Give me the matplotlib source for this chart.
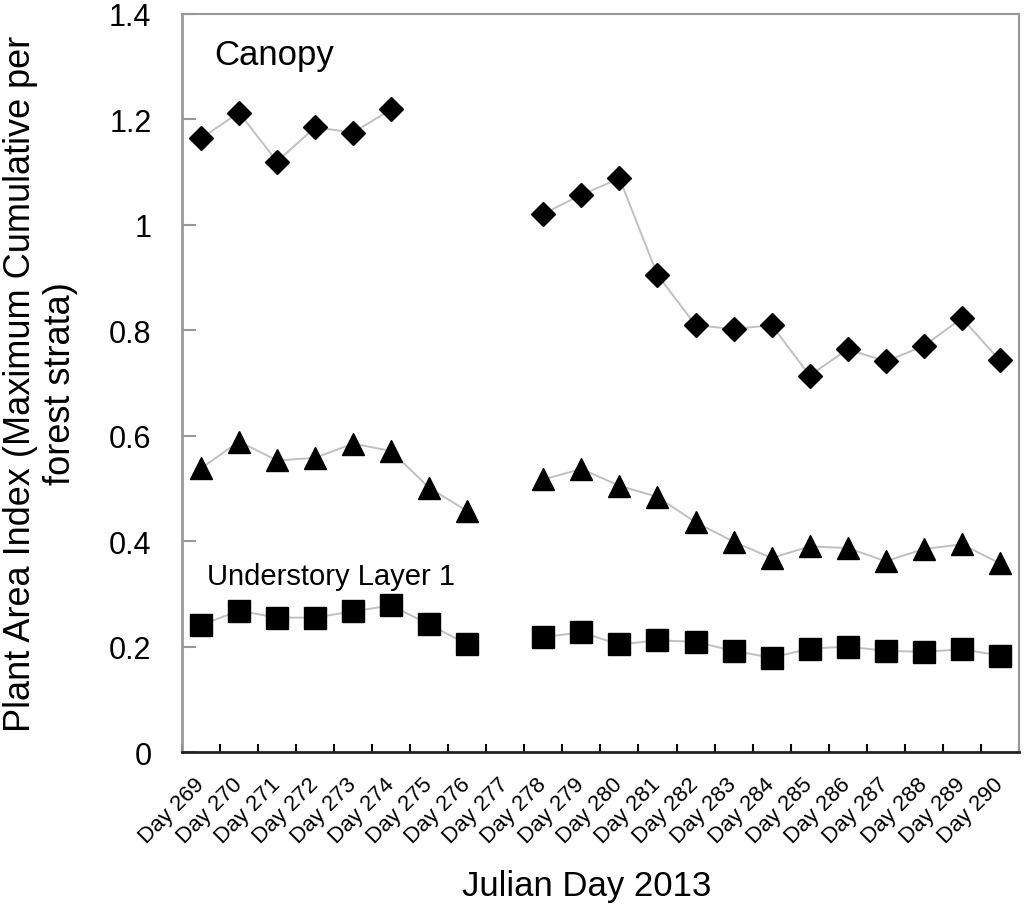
import numpy as np
import matplotlib
matplotlib.use("Agg")
import matplotlib.pyplot as plt

plt.rcParams['font.family'] = ['Liberation Sans', 'DejaVu Sans']

days = ["Day %d" % d for d in range(269, 291)]
nan = np.nan
canopy = [1.164, 1.213, 1.120, 1.185, 1.175, 1.219, nan, nan, nan,
          1.021, 1.057, 1.088, 0.905, 0.810, 0.802, 0.810, 0.714, 0.764,
          0.741, 0.770, 0.823, 0.743]
layer2 = [0.538, 0.589, 0.553, 0.558, 0.585, 0.571, 0.501, 0.457, nan,
          0.517, 0.537, 0.505, 0.484, 0.436, 0.399, 0.368, 0.390, 0.387,
          0.362, 0.385, 0.394, 0.358]
understory1 = [0.241, 0.268, 0.255, 0.255, 0.267, 0.278, 0.242, 0.204, nan,
               0.218, 0.227, 0.204, 0.212, 0.209, 0.192, 0.179, 0.196, 0.200,
               0.192, 0.190, 0.195, 0.183]
yticks = [0, 0.2, 0.4, 0.6, 0.8, 1.0, 1.2, 1.4]
ytick_labels = ["0", "0.2", "0.4", "0.6", "0.8", "1", "1.2", "1.4"]

fig = plt.figure(figsize=(10.24, 9.12), dpi=100)
ax = fig.add_axes([0.1777, 0.1743, 0.8173, 0.8093])

x = np.arange(len(days))
line_kw = dict(color='#c0c0c0', lw=1.4, zorder=1)
ax.plot(x, canopy, **line_kw)
ax.plot(x, layer2, **line_kw)
ax.plot(x, understory1, **line_kw)
ax.plot(x, canopy, ls='none', marker='D', ms=12.2, color='black', zorder=3)
ax.plot(x, layer2, ls='none', marker='^', ms=16.5, color='black', zorder=3)
ax.plot(x, understory1, ls='none', marker='s', ms=15.5, color='black', zorder=3)

ax.set_xlim(-0.5, len(days) - 0.5)
ax.set_ylim(0, 1.4)

ax.set_yticks(yticks)
ax.set_yticklabels(ytick_labels, fontsize=22)
ax.tick_params(axis='y', direction='in', length=10, width=1.5, color='#999999', pad=22)

ax.set_xticks(x)
ax.set_xticklabels(days, rotation=45, ha='right', va='center',
                   rotation_mode='anchor', fontsize=16)
ax.tick_params(axis='x', which='major', length=0, pad=21)
ax.set_xticks(np.arange(-0.5, len(days)), minor=True)
ax.tick_params(axis='x', which='minor', direction='in', length=6, width=1.5, color='black')

for s in ['left', 'top', 'right']:
    ax.spines[s].set_color('#999999')
    ax.spines[s].set_linewidth(1.5)
ax.spines['left'].set_linewidth(2.0)
ax.spines['bottom'].set_color('#222222')
ax.spines['bottom'].set_linewidth(2.0)

ax.set_ylabel("Plant Area Index (Maximum Cumulative per\nforest strata)",
              fontsize=26, linespacing=1.2)
ax.yaxis.set_label_coords(-0.124, 0.5)
ax.set_xlabel("Julian Day 2013", fontsize=25)
ax.xaxis.set_label_coords(0.483, -0.158)

ax.text(0.039, 0.932, "Canopy", transform=ax.transAxes, fontsize=25, va='baseline')
ax.text(0.030, 0.228, "Understory Layer 1", transform=ax.transAxes, fontsize=21, va='baseline')

fig.savefig("out.png", dpi=100)
